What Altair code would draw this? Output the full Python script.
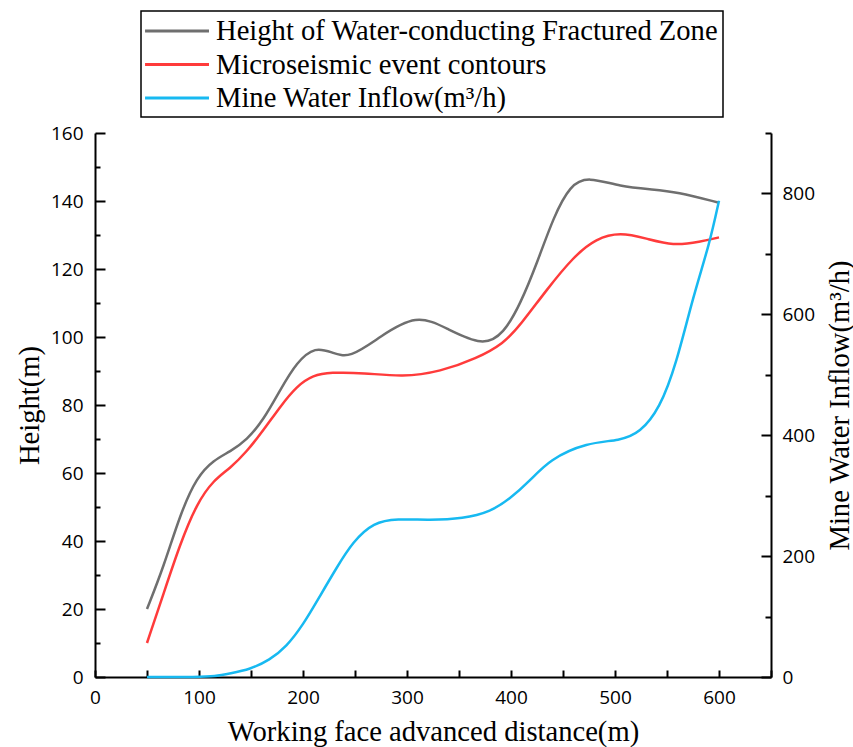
import altair as alt
import pandas as pd

# ---------------- data ----------------
series_names = [
    "Height of Water-conducting Fractured Zone",
    "Microseismic event contours",
    "Mine Water Inflow(m³/h)",
]
series_colors = ["#6f6f6f", "#ff3b3b", "#17b9f1"]

gray_dist = [50, 66, 82, 98, 114, 130, 146, 162, 178, 194, 212, 228, 245, 274, 309,
             338, 373, 393, 409, 425, 441, 457, 474, 505, 537, 559, 600]
gray_height = [20, 32.4, 48, 58.9, 63.8, 66.3, 69.7, 75.6, 84.4, 92.7, 97.2, 95.4, 93.7,
               100.1, 106.8, 102.6, 97.2, 101, 109.7, 121.7, 135.4, 144.7, 147.2, 144.2,
               143.4, 142.7, 139.5]

red_dist = [50, 66, 82, 98, 114, 130, 146, 162, 178, 194, 210, 226, 258, 296, 332, 367,
            393, 409, 434, 460, 482, 505, 530, 556, 582, 600]
red_height = [10, 24.6, 39.3, 51.1, 57.9, 61.4, 66.3, 72.6, 79.5, 85.6, 88.8, 89.6, 89.5,
              88.2, 89.8, 93.7, 98.1, 103.5, 113.8, 123.6, 129, 130.8, 129, 126.8, 128,
              129.3]

blue_dist = [50, 100, 115, 130, 149, 168, 184, 200, 216, 232, 248, 268, 290, 322,
             354, 380, 399, 418, 437, 473, 505, 524, 543, 559, 575, 591, 600]
blue_inflow = [0, 0, 1, 6, 12.7, 28, 50, 86, 133, 180, 224, 256, 262, 259.5, 262,
               273, 295, 324, 360, 388, 391, 404, 444, 518, 629, 717, 788]

x_label_values = [0, 100, 200, 300, 400, 500, 600]
x_tick_values = [0, 50, 100, 150, 200, 250, 300, 350, 400, 450, 500, 550, 600, 650]
yl_label_values = [0, 20, 40, 60, 80, 100, 120, 140, 160]
yl_tick_values = [0, 10, 20, 30, 40, 50, 60, 70, 80, 90, 100, 110, 120, 130, 140, 150, 160]
yr_label_values = [0, 200, 400, 600, 800]
yr_tick_values = [0, 100, 200, 300, 400, 500, 600, 700, 800, 900]

# ---------------- tables ----------------
left_df = pd.concat([
    pd.DataFrame({"dist": gray_dist, "value": gray_height, "series": series_names[0]}),
    pd.DataFrame({"dist": red_dist, "value": red_height, "series": series_names[1]}),
], ignore_index=True)
blue_df = pd.DataFrame({"dist": blue_dist, "value": blue_inflow, "series": series_names[2]})

W, H = 676, 544
TICK_FONT = "Open Sans"
SERIF = "Liberation Serif"
SERIF_SIZE = 28.6

x_scale = alt.Scale(domain=[0, 650], nice=False, zero=False)
yl_scale = alt.Scale(domain=[0, 160], nice=False)
yr_scale = alt.Scale(domain=[0, 900], nice=False)
color_scale = alt.Scale(domain=series_names, range=series_colors)

common_axis = dict(grid=False, domainColor="black", domainWidth=2, tickColor="black",
                   tickWidth=2, labelColor="black", labelFont=TICK_FONT, labelFontSize=19,
                   titleColor="black", titleFont=SERIF, titleFontSize=SERIF_SIZE,
                   titleFontWeight="normal")
tick_axis = dict(grid=False, tickColor="black", tickWidth=2)

legend = alt.Legend(
    orient="none", legendX=46, legendY=-122, direction="vertical", title=None,
    symbolType="M-1.1,0H3.31", symbolSize=841, symbolStrokeWidth=3, symbolOffset=0,
    labelFont=SERIF, labelFontSize=SERIF_SIZE, labelColor="black", labelOffset=39,
    labelLimit=0, padding=4, rowPadding=2.5, strokeColor="black", fillColor="white",
)

line_style = dict(strokeWidth=2.5, interpolate="basis")

# main lines (left scale) with bottom + left labelled axes
lines_left = alt.Chart(left_df).mark_line(**line_style).encode(
    x=alt.X("dist:Q", scale=x_scale, axis=alt.Axis(
        orient="bottom", values=x_label_values, ticks=False, tickSize=0, labelPadding=11,
        labelFlush=False, labelOverlap=False,
        title="Working face advanced distance(m)", titleX=338, titleY=63,
        titleBaseline="alphabetic", titleAlign="center", titleAngle=0, **common_axis)),
    y=alt.Y("value:Q", scale=yl_scale, axis=alt.Axis(
        orient="left", values=yl_label_values, ticks=False, tickSize=0, labelPadding=12,
        labelFlush=False, labelOverlap=False,
        title="Height(m)", titleX=-57, titleY=272, titleAngle=270,
        titleBaseline="alphabetic", titleAlign="center", **common_axis)),
    color=alt.Color("series:N", scale=color_scale, legend=legend),
)

# blue line (right scale) with right labelled axis
line_right = alt.Chart(blue_df).mark_line(**line_style).encode(
    x=alt.X("dist:Q", scale=x_scale, axis=None),
    y=alt.Y("value:Q", scale=yr_scale, axis=alt.Axis(
        orient="right", values=yr_label_values, ticks=False, tickSize=0, labelPadding=11,
        labelFlush=False, labelOverlap=False,
        title="Mine Water Inflow(m³/h)", titleX=77, titleY=272, titleAngle=270,
        titleBaseline="alphabetic", titleAlign="center", **common_axis)),
    color=alt.Color("series:N", scale=color_scale, legend=legend),
)

# inward ticks: left and bottom
ticks_left = alt.Chart(left_df).mark_line(strokeOpacity=0).encode(
    x=alt.X("dist:Q", scale=x_scale, axis=alt.Axis(
        orient="top", offset=-H, values=x_tick_values, labels=False, domain=False,
        tickSize=7, title=None, **tick_axis)),
    y=alt.Y("value:Q", scale=yl_scale, axis=alt.Axis(
        orient="right", offset=-W, values=yl_tick_values, labels=False, domain=False,
        tickSize={"condition": {"test": "datum.value % 20 === 0", "value": 10}, "value": 5},
        title=None, **tick_axis)),
    detail="series:N",
)

# inward ticks: right
ticks_right = alt.Chart(blue_df).mark_line(strokeOpacity=0).encode(
    x=alt.X("dist:Q", scale=x_scale, axis=None),
    y=alt.Y("value:Q", scale=yr_scale, axis=alt.Axis(
        orient="left", offset=-W, values=yr_tick_values, labels=False, domain=False,
        tickSize={"condition": {"test": "datum.value % 200 === 0", "value": 10}, "value": 6},
        title=None, **tick_axis)),
)

chart = alt.layer(lines_left, line_right, ticks_left, ticks_right).resolve_scale(
    x="independent", y="independent", color="shared"
).properties(
    width=W, height=H,
    autosize=alt.AutoSizeParams(type="none"),
    padding={"left": 95, "top": 133, "right": 82, "bottom": 70},
    background="white",
).configure_view(stroke=None).configure_legend(strokeWidth=1.5)

chart.save("out.html", embed_options={"renderer": "svg", "actions": False})
